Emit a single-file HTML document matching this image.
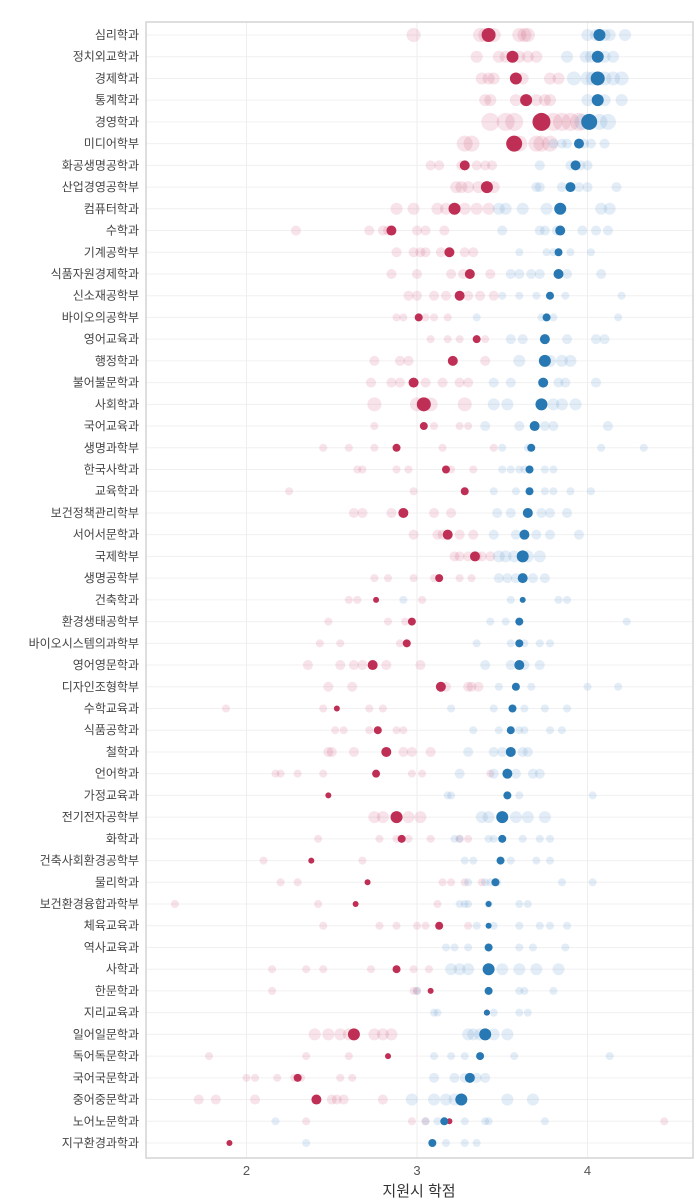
<!DOCTYPE html>
<html><head><meta charset="utf-8">
<style>
html,body{margin:0;padding:0;background:#fff;}
svg{display:block;font-family:"Liberation Sans","Noto Sans CJK KR",sans-serif;}
</style></head>
<body>
<svg id="chart" width="700" height="1200"></svg>
<script>
const categories=["심리학과","정치외교학과","경제학과","통계학과","경영학과","미디어학부","화공생명공학과","산업경영공학부","컴퓨터학과","수학과","기계공학부","식품자원경제학과","신소재공학부","바이오의공학부","영어교육과","행정학과","불어불문학과","사회학과","국어교육과","생명과학부","한국사학과","교육학과","보건정책관리학부","서어서문학과","국제학부","생명공학부","건축학과","환경생태공학부","바이오시스템의과학부","영어영문학과","디자인조형학부","수학교육과","식품공학과","철학과","언어학과","가정교육과","전기전자공학부","화학과","건축사회환경공학부","물리학과","보건환경융합과학부","체육교육과","역사교육과","사학과","한문학과","지리교육과","일어일문학과","독어독문학과","국어국문학과","중어중문학과","노어노문학과","지구환경과학과"];
const redMean=[3.42,3.56,3.58,3.64,3.73,3.57,3.28,3.41,3.22,2.85,3.19,3.31,3.25,3.01,3.35,3.21,2.98,3.04,3.04,2.88,3.17,3.28,2.92,3.18,3.34,3.13,2.76,2.97,2.94,2.74,3.14,2.53,2.77,2.82,2.76,2.48,2.88,2.91,2.38,2.71,2.64,3.13,3.42,2.88,3.08,3.41,2.63,2.83,2.30,2.41,3.19,1.90];
const redSize=[7,6,6,6,9,8,5,6,6,5,5,5,5,4,4,5,5,7,4,4,4,4,5,5,5,4,3,4,4,5,5,3,4,5,4,3,6,4,3,3,3,4,3,4,3,3,6,3,4,5,3,3];
const blueMean=[4.07,4.06,4.06,4.06,4.01,3.95,3.93,3.90,3.84,3.84,3.83,3.83,3.78,3.76,3.75,3.75,3.74,3.73,3.69,3.67,3.66,3.66,3.65,3.63,3.62,3.62,3.62,3.60,3.60,3.60,3.58,3.56,3.55,3.55,3.53,3.53,3.50,3.50,3.49,3.46,3.42,3.42,3.42,3.42,3.42,3.41,3.40,3.37,3.31,3.26,3.16,3.09];
const blueSize=[6,6,7,6,8,5,5,5,6,5,4,5,4,4,5,6,5,6,5,4,4,4,5,5,6,5,3,4,4,5,4,4,4,5,5,4,6,4,4,4,3,3,4,6,4,3,6,4,5,6,4,4];
const redFaint=[[2.98,3.37,3.40,3.45,3.60,3.63,3.65],[3.35,3.48,3.52,3.60,3.65,3.70],[3.38,3.42,3.45,3.62,3.78,3.83],[3.40,3.43,3.58,3.70,3.75,3.78],[3.43,3.52,3.57,3.80,3.85,3.90,3.95],[3.28,3.32,3.60,3.70,3.73,3.78],[3.08,3.13,3.26,3.35,3.40,3.44],[3.23,3.26,3.30,3.36,3.45],[2.88,2.98,3.12,3.17,3.28,3.35,3.42],[2.29,2.72,2.80,2.83,3.00,3.05,3.16],[2.88,2.98,3.02,3.05,3.14,3.28,3.33],[2.85,3.00,3.20,3.27,3.43],[2.95,3.00,3.10,3.17,3.30,3.37,3.45],[2.88,2.92,3.05,3.10,3.18],[3.08,3.18,3.25,3.40],[2.75,2.90,2.95,3.40],[2.73,2.85,2.90,3.05,3.15,3.25,3.30],[2.75,3.00,3.08,3.28],[2.75,3.10,3.25,3.30],[2.45,2.60,2.75,3.15,3.45],[2.65,2.68,2.88,2.95,3.20,3.33],[2.25,2.98,3.28],[2.63,2.68,2.85,3.10,3.20],[2.98,3.12,3.15,3.25,3.33],[3.22,3.25,3.30,3.35,3.38,3.43],[2.75,2.83,2.98,3.10,3.25,3.32],[2.60,2.65,3.03],[2.48,2.83,2.93],[2.43,2.55,2.90],[2.36,2.55,2.63,2.68,2.82,3.02],[2.48,2.62,3.17,3.30,3.32,3.36],[1.88,2.45,2.72,2.80],[2.52,2.57,2.72,2.88,2.92],[2.48,2.50,2.63,2.92,2.97,3.08],[2.17,2.20,2.30,2.45,2.97,3.03,3.43],[],[2.75,2.80,2.95,3.02],[2.42,2.78,2.88,2.95,3.08,3.25,3.30],[2.10,2.68],[2.20,2.30,3.15,3.20,3.28,3.38],[1.58,2.42,3.12],[2.45,2.78,2.88,3.00,3.05,3.30],[],[2.15,2.35,2.45,2.73,2.98,3.07],[2.15,2.98,3.00],[],[2.40,2.48,2.55,2.60,2.75,2.80,2.85],[1.78,2.35,2.60],[2.00,2.05,2.18,2.28,2.32,2.55,2.62],[1.72,1.82,2.05,2.50,2.53,2.57,2.80],[2.35,2.97,3.05,4.45],[]];
const blueFaint=[[4.00,4.05,4.10,4.13,4.22],[3.88,3.99,4.02,4.10,4.15],[3.92,4.00,4.03,4.10,4.15,4.20],[4.00,4.10,4.20],[3.97,4.07,4.12],[3.80,3.85,3.88,3.98,4.02,4.10],[3.72,3.90,3.96,4.00],[3.70,3.72,3.85,3.95,4.00,4.17],[3.48,3.52,3.62,3.76,4.08,4.13],[3.50,3.72,3.75,3.82,3.97,4.05,4.12],[3.60,3.76,3.80,3.90,4.02],[3.55,3.60,3.67,3.72,3.88,4.08],[3.50,3.60,3.70,3.78,3.87,4.20],[3.35,3.73,3.80,4.18],[3.55,3.62,3.88,4.05,4.10],[3.60,3.78,3.85,3.90],[3.45,3.55,3.83,3.87,4.05],[3.45,3.53,3.80,3.85,3.93],[3.40,3.60,3.75,3.80,4.12],[3.50,3.65,4.08,4.33],[3.50,3.55,3.60,3.63,3.75,3.80],[3.45,3.58,3.75,3.80,3.90,4.02],[3.47,3.55,3.73,3.78,3.88],[3.45,3.58,3.70,3.78,3.95],[3.48,3.52,3.57,3.65,3.72],[3.48,3.53,3.58,3.68,3.75],[2.92,3.55,3.83,3.88],[3.43,3.52,3.60,4.23],[3.35,3.55,3.63,3.72,3.78],[3.40,3.55,3.63,3.72],[3.48,3.67,4.00,4.18],[3.20,3.45,3.63,3.75,3.88],[3.33,3.48,3.60,3.63,3.78,3.85],[3.30,3.45,3.50,3.62,3.65],[3.25,3.45,3.58,3.68,3.72],[3.18,3.20,3.60,4.03],[3.38,3.42,3.58,3.65,3.75],[3.22,3.25,3.42,3.45,3.62,3.72,3.78],[3.28,3.33,3.55,3.70,3.78],[3.30,3.40,3.43,3.47,3.85,4.03],[3.25,3.28,3.30,3.42,3.60,3.65],[3.35,3.45,3.60,3.72,3.78,3.88],[3.17,3.22,3.30,3.60,3.68,3.87],[3.20,3.25,3.30,3.50,3.60,3.70,3.83],[3.00,3.60,3.63,3.80],[3.10,3.12,3.45,3.60,3.65],[3.30,3.33,3.37,3.45,3.53],[3.10,3.20,3.28,3.57,4.13],[3.10,3.22,3.28,3.35,3.40],[2.97,3.10,3.17,3.22,3.53,3.68],[2.17,3.05,3.12,3.28,3.40,3.42,3.75],[2.35,3.17,3.28,3.35]];
const xTicks=[2,3,4];

const NS="http://www.w3.org/2000/svg";
const svg=document.getElementById('chart');
const L=146,R=693,T=22,B=1158;
const xScale=v=>246.5+(v-2)*170.5;
const yScale=i=>35+i*(1143-35)/(categories.length-1);
function mk(tag,attrs,parent){const e=document.createElementNS(NS,tag);for(const k in attrs)e.setAttribute(k,attrs[k]);(parent||svg).appendChild(e);return e;}

const grid=mk('g',{});


categories.forEach((c,i)=>{const l=mk('line',{x1:L,x2:R,y1:yScale(i),y2:yScale(i),stroke:'#f0f0f0','stroke-width':1},grid);

});
xTicks.forEach(t=>{const l=mk('line',{x1:xScale(t),x2:xScale(t),y1:T,y2:B,stroke:'#eeeeee','stroke-width':1},grid);

});

const pts=mk('g',{});


categories.forEach((c,i)=>{
  const y=yScale(i);
  redFaint[i].forEach(v=>{const e=mk('circle',{cx:xScale(v),cy:y,r:Math.max(4,redSize[i]),fill:'rgba(200,60,100,0.14)'},pts);
  
  });
  blueFaint[i].forEach(v=>{const e=mk('circle',{cx:xScale(v),cy:y,r:Math.max(4,blueSize[i]),fill:'rgba(90,150,205,0.17)'},pts);
  
  });
});
categories.forEach((c,i)=>{
  const y=yScale(i);
  const r=mk('circle',{cx:xScale(redMean[i]),cy:y,r:redSize[i],fill:'#bf2f55'},pts);
  
  
  const b=mk('circle',{cx:xScale(blueMean[i]),cy:y,r:blueSize[i],fill:'#2878b3'},pts);
  
  
});

const frame=mk('rect',{x:L,y:T,width:R-L,height:B-T,fill:'none',stroke:'#d4d4d4','stroke-width':1.5});



categories.forEach((c,i)=>{const t=mk('text',{x:139,y:yScale(i)+4,'text-anchor':'end','font-size':12,fill:'#444'});t.textContent=c;

});
xTicks.forEach(v=>{const t=mk('text',{x:xScale(v),y:1175,'text-anchor':'middle','font-size':13,fill:'#555'});t.textContent=v;

});
const title=mk('text',{x:419,y:1196,'text-anchor':'middle','font-size':15,fill:'#333'});
title.textContent='지원시 학점';


</script>
</body></html>
